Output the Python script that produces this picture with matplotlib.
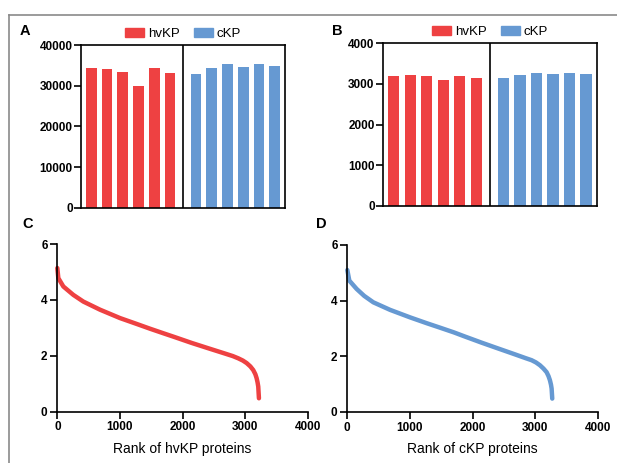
import matplotlib
matplotlib.use('Agg')
import matplotlib.pyplot as plt
from matplotlib.patches import Patch
from matplotlib.lines import Line2D

plt.rcParams['font.family'] = ['Liberation Sans', 'DejaVu Sans']

red = '#ee4142'
blue = '#6699d2'

# Panel A / B: six samples per group
hvkp_a = [34450, 34000, 33300, 29960, 34400, 33200]
ckp_a = [32800, 34450, 35300, 34500, 35400, 34900]
hvkp_b = [3195, 3203, 3179, 3097, 3187, 3138]
ckp_b = [3138, 3220, 3253, 3236, 3253, 3228]

# Panel C / D: rank vs value
rank_c = [0, 16, 96, 255, 415, 681, 1000, 1266, 1478, 1700, 1872, 2144,
          2408, 2675, 2800, 2887, 2960, 3021, 3080, 3126, 3160, 3180, 3195,
          3206, 3217]
val_c = [5.14, 4.78, 4.48, 4.18, 3.94, 3.65, 3.35, 3.14, 2.97, 2.80, 2.67,
         2.46, 2.27, 2.08, 1.99, 1.91, 1.83, 1.74, 1.62, 1.49, 1.34, 1.20,
         1.05, 0.90, 0.48]
rank_d = [0, 32, 149, 270, 415, 681, 1000, 1266, 1478, 1700, 1877, 2143,
          2408, 2675, 2850, 2941, 3010, 3073, 3130, 3180, 3210, 3233, 3250,
          3260, 3270]
val_d = [5.10, 4.72, 4.42, 4.17, 3.94, 3.67, 3.40, 3.19, 3.03, 2.86, 2.71,
         2.49, 2.28, 2.07, 1.93, 1.86, 1.78, 1.68, 1.56, 1.43, 1.29, 1.14,
         0.98, 0.84, 0.48]

pos_hv = [0, 1, 2, 3, 4, 5]
pos_c = [6.65, 7.65, 8.65, 9.65, 10.65, 11.65]
divider = 5.83

fig = plt.figure(figsize=(6.17, 4.63), dpi=100, facecolor='white')

tick_font = dict(fontsize=8.5, fontweight='bold')


def bar_panel(rect, hv, ck, ymax, step):
    ax = fig.add_axes(rect)
    ax.bar(pos_hv, hv, width=0.68, color=red)
    ax.bar(pos_c, ck, width=0.68, color=blue)
    ax.axvline(divider, color='black', lw=1.2)
    ax.set_xlim(-0.66, 12.31)
    ax.set_ylim(0, ymax)
    ax.set_xticks([])
    ax.set_yticks(range(0, ymax + 1, step))
    ax.set_yticklabels([str(v) for v in range(0, ymax + 1, step)], **tick_font)
    ax.tick_params(axis='y', length=5, width=1.2, pad=1)
    for s in ax.spines.values():
        s.set_linewidth(1.2)
    handles = [Patch(color=red, label='hvKP'), Patch(color=blue, label='cKP')]
    ax.legend(handles=handles, ncol=2, frameon=False, loc='center',
              bbox_to_anchor=(0.5, 1.067), fontsize=9.5, handlelength=1.45,
              handleheight=0.65, handletextpad=0.25, columnspacing=1.1,
              borderpad=0)
    return ax


def rank_panel(rect, xs, ys, color, label):
    ax = fig.add_axes(rect)
    ax.plot(xs, ys, color=color, lw=3.2, solid_capstyle='round',
            solid_joinstyle='round', clip_on=False)
    ax.set_xlim(0, 4000)
    ax.set_ylim(0, 6)
    ax.set_xticks([0, 1000, 2000, 3000, 4000])
    ax.set_xticklabels(['0', '1000', '2000', '3000', '4000'], **tick_font)
    ax.set_yticks([0, 2, 4, 6])
    ax.set_yticklabels(['0', '2', '4', '6'], **tick_font)
    ax.tick_params(length=5, width=1.2, pad=2)
    ax.spines['top'].set_visible(False)
    ax.spines['right'].set_visible(False)
    ax.spines['left'].set_linewidth(1.2)
    ax.spines['bottom'].set_linewidth(1.2)
    ax.set_xlabel(label, fontsize=10, labelpad=6)
    return ax


bar_panel([0.1313, 0.5508, 0.3306, 0.352], hvkp_a, ckp_a, 40000, 10000)
bar_panel([0.6207, 0.5551, 0.3468, 0.352], hvkp_b, ckp_b, 4000, 1000)
rank_panel([0.0929, 0.1108, 0.4063, 0.3622], rank_c, val_c, red,
           'Rank of hvKP proteins')
rank_panel([0.5629, 0.1102, 0.4063, 0.3607], rank_d, val_d, blue,
           'Rank of cKP proteins')

# panel letters
for letter, x, y in [('A', 20, 31), ('B', 332, 31), ('C', 22, 224), ('D', 316, 224)]:
    fig.text(x / 617, 1 - y / 463, letter, fontsize=10.5, fontweight='bold',
             va='center', ha='left')

# grey frame lines at top and left
fig.add_artist(Line2D([9 / 617, 1], [1 - 15 / 463, 1 - 15 / 463],
                      color='#8a8a8a', lw=1.2, transform=fig.transFigure))
fig.add_artist(Line2D([9 / 617, 9 / 617], [0, 1 - 15 / 463],
                      color='#8a8a8a', lw=1.2, transform=fig.transFigure))

fig.savefig('out.png', dpi=100)
